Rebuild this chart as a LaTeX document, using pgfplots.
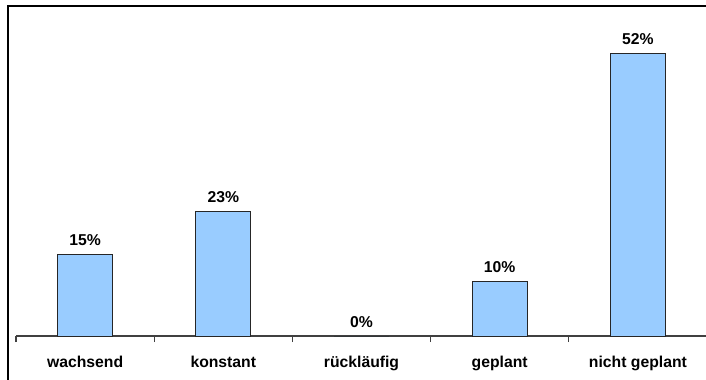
\documentclass[border=0pt]{standalone}
\usepackage{fontspec}
\setmainfont{Liberation Sans}
\usepackage{pgfplots}
\pgfplotsset{compat=1.18}
\definecolor{barblue}{HTML}{99CCFF}
\definecolor{axisgray}{HTML}{404040}

\begin{document}
\begin{tikzpicture}[x=1pt,y=1pt]
  \useasboundingbox (0,0) rectangle (529.5,284.25);
  % chart frame (top and left edges)
  \draw[line width=1.5pt,black] (6,-2) -- (6,279.75) -- (535,279.75);
  \begin{axis}[
    at={(12pt,32.25pt)}, anchor=south west,
    scale only axis,
    width=518.25pt, height=244.5pt,
    xmin=-0.5, xmax=4.5,
    ymin=0, ymax=60,
    axis x line=bottom, axis y line=none,
    x axis line style={-, axisgray, line width=0.8pt},
    xtick={0,1,2,3,4},
    xticklabels={wachsend,konstant,rückläufig,geplant,nicht geplant},
    major tick length=0pt,
    xticklabel style={anchor=base, yshift=-23.25pt,
      font=\fontsize{11.8}{14}\selectfont\bfseries},
    extra x ticks={-0.5,0.5,1.5,2.5,3.5},
    extra x tick labels={},
    extra x tick style={tick align=outside, major tick length=4.5pt,
      tick style={axisgray, line width=0.8pt}},
    ybar, bar width=41.25pt,
    /pgf/number format/assume math mode=true,
    nodes near coords={\pgfmathprintnumber{\pgfplotspointmeta}\%},
    every node near coord/.append style={anchor=base, yshift=6.75pt,
      font=\fontsize{11.8}{14}\selectfont\bfseries, black},
    clip=false,
  ]
    \addplot[fill=barblue, draw=black!85, line width=0.75pt]
      coordinates {(0,15) (1,23) (2,0) (3,10) (4,52)};
  \end{axis}
\end{tikzpicture}
\end{document}
